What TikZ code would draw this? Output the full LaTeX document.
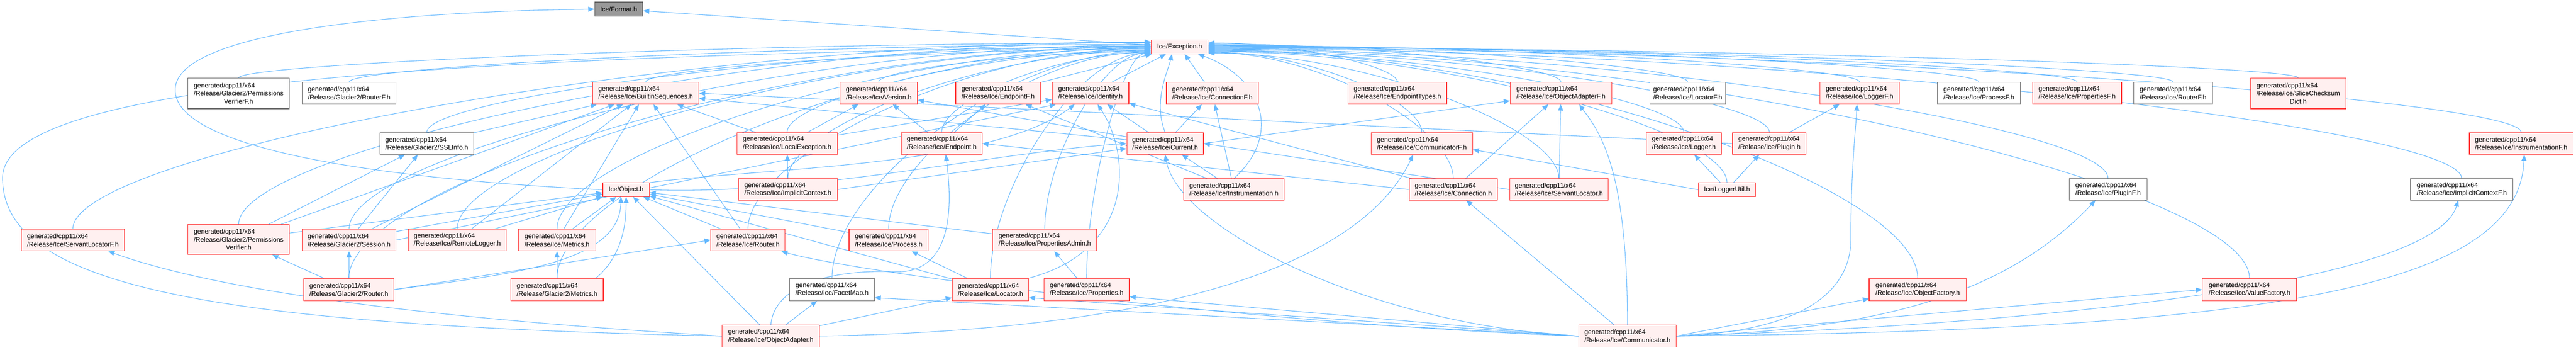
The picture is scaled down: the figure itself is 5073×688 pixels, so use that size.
\documentclass[tikz,border=0pt]{standalone}
\usepackage{fontspec}
\setmainfont{Liberation Sans}
\usetikzlibrary{arrows.meta,calc}
\definecolor{edgec}{HTML}{63B8FF}
\definecolor{redb}{HTML}{FF3333}
\definecolor{redf}{HTML}{FFF0F0}
\definecolor{grayb}{HTML}{666666}
\definecolor{rootf}{HTML}{999999}
\pgfdeclarelayer{bg}
\pgfdeclarelayer{edges}
\pgfsetlayers{bg,edges,main}
\newcommand\twoL[1]{\rlap{generated/cpp11/x64}\phantom{#1}\\#1}
\newcommand\threeL[2]{\rlap{generated/cpp11/x64}\phantom{#1}\\#1\\#2}
\newcommand\mknode[7]{\node[#6,minimum width={(#4-#2)*0.75pt},minimum height={(#5-#3)*0.75pt}] (#1) at ({(#2+#4)/2},{(#3+#5)/2}) {#7};}
\newcommand\exl[3]{\draw[inc] let \p1=(#1.#2), \p2=($(Exc.west)+(0,#3)$) in (\p1) .. controls (\x1,{\y2+0.6*(\y1-\y2)}) and ({\x2-0.45*(\x2-\x1)},\y2) .. (\p2);}
\newcommand\exr[3]{\draw[inc] let \p1=(#1.#2), \p2=($(Exc.east)+(0,#3)$) in (\p1) .. controls (\x1,{\y2+0.6*(\y1-\y2)}) and ({\x2+0.45*(\x1-\x2)},\y2) .. (\p2);}
\begin{document}
\begin{tikzpicture}[x=0.75pt,y=-0.75pt,
 every node/.style={font=\fontsize{9.7}{11.85}\selectfont, inner sep=0pt, align=center, line width=0.9pt},
 rn/.style={draw=redb, fill=redf},
 wn/.style={draw=grayb, fill=white},
 gn/.style={draw=grayb, fill=rootf},
 inc/.style={draw=edgec, line width=0.8pt, -{Triangle[length=9pt,width=7.5pt]}}]
\useasboundingbox (0,0) rectangle (5073,688);
\begin{pgfonlayer}{bg}
\fill[white] (0,0) rectangle (5073,688);
\end{pgfonlayer}
% nodes
\mknode{Fmt}{1171}{4}{1266}{32}{gn}{Ice/Format.h}
\mknode{Exc}{2267}{79}{2379}{106}{rn}{Ice/Exception.h}
\mknode{PVF}{370}{154}{570}{214}{wn}{\threeL{/Release/Glacier2/Permissions}{VerifierF.h}}
\mknode{G2RF}{595}{162}{780}{205}{wn}{\twoL{/Release/Glacier2/RouterF.h}}
\mknode{BS}{1167}{162}{1376}{205}{rn}{\twoL{/Release/Ice/BuiltinSequences.h}}
\mknode{Ver}{1654}{162}{1807}{205}{rn}{\twoL{/Release/Ice/Version.h}}
\mknode{EPF}{1882}{162}{2049}{205}{rn}{\twoL{/Release/Ice/EndpointF.h}}
\mknode{Ident}{2072}{162}{2223}{205}{rn}{\twoL{/Release/Ice/Identity.h}}
\mknode{ConnF}{2297}{162}{2478}{205}{rn}{\twoL{/Release/Ice/ConnectionF.h}}
\mknode{EPT}{2655}{162}{2849}{205}{rn}{\twoL{/Release/Ice/EndpointTypes.h}}
\mknode{OAF}{2974}{162}{3174}{205}{rn}{\twoL{/Release/Ice/ObjectAdapterF.h}}
\mknode{LocF}{3249}{162}{3398}{205}{wn}{\twoL{/Release/Ice/LocatorF.h}}
\mknode{LogF}{3584}{162}{3740}{205}{rn}{\twoL{/Release/Ice/LoggerF.h}}
\mknode{ProcF}{3815}{162}{3979}{205}{wn}{\twoL{/Release/Ice/ProcessF.h}}
\mknode{PropF}{4003}{162}{4178}{205}{rn}{\twoL{/Release/Ice/PropertiesF.h}}
\mknode{RtF}{4202}{162}{4357}{205}{wn}{\twoL{/Release/Ice/RouterF.h}}
\mknode{SCD}{4432}{154}{4620}{214}{rn}{\threeL{/Release/Ice/SliceChecksum}{Dict.h}}
\mknode{SSL}{748}{261}{933}{304}{wn}{\twoL{/Release/Glacier2/SSLInfo.h}}
\mknode{LocEx}{1451}{261}{1649}{304}{rn}{\twoL{/Release/Ice/LocalException.h}}
\mknode{EP}{1775}{261}{1934}{304}{rn}{\twoL{/Release/Ice/Endpoint.h}}
\mknode{Cur}{2219}{261}{2370}{304}{rn}{\twoL{/Release/Ice/Current.h}}
\mknode{CommF}{2700}{261}{2900}{304}{rn}{\twoL{/Release/Ice/CommunicatorF.h}}
\mknode{Log}{3242}{261}{3390}{304}{rn}{\twoL{/Release/Ice/Logger.h}}
\mknode{Plug}{3412}{261}{3557}{304}{rn}{\twoL{/Release/Ice/Plugin.h}}
\mknode{InstF}{4863}{261}{5067}{304}{rn}{\twoL{/Release/Ice/InstrumentationF.h}}
\mknode{Obj}{1187}{360}{1279}{387}{rn}{Ice/Object.h}
\mknode{ImpC}{1454}{352}{1649}{394}{rn}{\twoL{/Release/Ice/ImplicitContext.h}}
\mknode{Inst}{2331}{352}{2529}{394}{rn}{\twoL{/Release/Ice/Instrumentation.h}}
\mknode{Conn}{2775}{352}{2949}{394}{rn}{\twoL{/Release/Ice/Connection.h}}
\mknode{SL}{2973}{352}{3167}{394}{rn}{\twoL{/Release/Ice/ServantLocator.h}}
\mknode{LU}{3345}{360}{3457}{387}{rn}{Ice/LoggerUtil.h}
\mknode{PlugF}{4075}{352}{4228}{394}{wn}{\twoL{/Release/Ice/PluginF.h}}
\mknode{ImpCF}{4747}{352}{4949}{394}{wn}{\twoL{/Release/Ice/ImplicitContextF.h}}
\mknode{SLF}{42}{451}{245}{494}{rn}{\twoL{/Release/Ice/ServantLocatorF.h}}
\mknode{PV}{370}{442}{570}{501}{rn}{\threeL{/Release/Glacier2/Permissions}{Verifier.h}}
\mknode{Sess}{595}{451}{780}{494}{rn}{\twoL{/Release/Glacier2/Session.h}}
\mknode{RL}{804}{451}{997}{494}{rn}{\twoL{/Release/Ice/RemoteLogger.h}}
\mknode{Met}{1021}{451}{1173}{494}{rn}{\twoL{/Release/Ice/Metrics.h}}
\mknode{Rt}{1400}{451}{1546}{494}{rn}{\twoL{/Release/Ice/Router.h}}
\mknode{Proc}{1672}{451}{1828}{494}{rn}{\twoL{/Release/Ice/Process.h}}
\mknode{PA}{1955}{451}{2160}{494}{rn}{\twoL{/Release/Ice/PropertiesAdmin.h}}
\mknode{G2R}{598}{548}{776}{592}{rn}{\twoL{/Release/Glacier2/Router.h}}
\mknode{G2M}{1006}{548}{1188}{592}{rn}{\twoL{/Release/Glacier2/Metrics.h}}
\mknode{FM}{1555}{548}{1722}{592}{wn}{\twoL{/Release/Ice/FacetMap.h}}
\mknode{Loc}{1875}{548}{2026}{592}{rn}{\twoL{/Release/Ice/Locator.h}}
\mknode{Prop}{2056}{548}{2224}{592}{rn}{\twoL{/Release/Ice/Properties.h}}
\mknode{OF}{3681}{548}{3872}{592}{rn}{\twoL{/Release/Ice/ObjectFactory.h}}
\mknode{VF}{4337}{548}{4523}{592}{rn}{\twoL{/Release/Ice/ValueFactory.h}}
\mknode{OA}{1422}{640}{1614}{683}{rn}{\twoL{/Release/Ice/ObjectAdapter.h}}
\mknode{Comm}{3109}{640}{3301}{683}{rn}{\twoL{/Release/Ice/Communicator.h}}
% edges
\begin{pgfonlayer}{edges}
\draw[inc] (Exc) -- (Fmt);
\draw[inc] (Obj.west) .. controls (800,355) and (340,300) .. (345,175) .. controls (350,60) and (800,22) .. (Fmt.west);
% into Exception from the left
\exl{PVF}{north}{-8}
\exl{G2RF}{north}{-5}
\exl{SSL}{north}{-2}
\exl{SLF}{north}{-10}
\exl{PV}{north}{-9}
\exl{Sess}{north}{-4}
\exl{G2R}{north}{-1}
\exl{G2M}{north}{1}
\exl{RL}{north}{0}
\exl{Met}{north}{2}
\exl{Rt}{north}{3}
\exl{BS}{north}{4}
\exl{LocEx}{north}{6}
\exl{ImpC}{north}{7}
\exl{FM}{north}{8}
\exl{Ver}{north}{9}
\exl{Proc}{north}{10}
\exl{EP}{north}{11}
\exl{PA}{north}{12}
\exl{Loc}{north}{12}
\exl{Prop}{north}{13}
\draw[inc] (OA.west) .. controls (400,640) and (5,560) .. (5,350) .. controls (5,160) and (900,110) .. ($(Exc.west)+(0,-2)$);
% into Exception from below
\draw[inc] (EPF) -- (Exc);
\draw[inc] (Ident) -- (Exc);
\draw[inc] (ConnF) -- (Exc);
\draw[inc] (Cur.north) .. controls (2270,200) and (2300,140) .. ($(Exc.south)+(-15,0)$);
\draw[inc] (Inst.north) .. controls (2530,260) and (2480,150) .. ($(Exc.south east)+(-20,0)$);
% into Exception from the right
\exr{EPT}{north}{-8}
\exr{OAF}{north}{-6}
\exr{LocF}{north}{-4}
\exr{LogF}{north}{-3}
\exr{ProcF}{north}{-2}
\exr{PropF}{north}{-1}
\exr{RtF}{north}{0}
\exr{SCD}{north}{1}
\exr{InstF}{north}{2}
\exr{ImpCF}{north}{3}
\exr{PlugF}{north}{4}
\exr{VF}{north}{5}
\exr{OF}{north}{6}
\exr{Plug}{north}{7}
\exr{Log}{north}{8}
\exr{LU}{north}{9}
\exr{CommF}{north}{10}
\exr{Conn}{north}{11}
\exr{SL}{north}{12}
% other includes
\draw[inc] (PV) -- (SSL);
\draw[inc] (Sess) -- (SSL);
\draw[inc] (SSL) -- (BS);
\draw[inc] (G2R) -- (PV);
\draw[inc] (G2R) -- (Sess);
\draw[inc] (G2R.east) -- (Rt.west);
\draw[inc] (OA.west) .. controls (900,630) and (450,580) .. ($(SLF.south)+(70,0)$);
\draw[inc] (Sess) -- (BS);
\draw[inc] (PV) -- (BS);
\draw[inc] (RL) -- (BS);
\draw[inc] (Met) -- (BS);
\draw[inc] (Rt) -- (BS);
\draw[inc] (LocEx) -- (BS);
\draw[inc] (Cur) -- (BS);
\draw[inc] (Plug.west) -- (BS.east);
\draw[inc] (PV) -- (Obj);
\draw[inc] (Sess) -- (Obj);
\draw[inc] (RL) -- (Obj);
\draw[inc] (Met) -- (Obj);
\draw[inc] (Rt) -- (Obj);
\draw[inc] ($(G2M.north east)+(-15,0)$) .. controls (1230,500) and (1233,430) .. (Obj.south);
\draw[inc] (G2R.east) .. controls (1000,540) and (1220,520) .. ($(Obj.south)+(-10,0)$);
\draw[inc] (OA) -- (Obj);
\draw[inc] (Proc) -- (Obj);
\draw[inc] (PA) -- (Obj);
\draw[inc] (Loc) -- (Obj);
\draw[inc] (G2M) -- (Met);
\draw[inc] (ImpC) -- (LocEx);
\draw[inc] (LocEx) -- (Ver);
\draw[inc] (LocEx) -- (Ident);
\draw[inc] (Obj.north east) .. controls (1500,330) and (1950,330) .. ($(Ident.south west)+(45,0)$);
\draw[inc] (Obj.east) .. controls (1600,385) and (1950,300) .. (Cur.west);
\draw[inc] (ImpC.east) -- ($(Cur.west)+(0,10)$);
\draw[inc] (EP) -- (Ver);
\draw[inc] (EP) -- (EPF);
\draw[inc] (Cur) -- (Ident);
\draw[inc] (Cur) -- (ConnF);
\draw[inc] (Cur) -- (Ver);
\draw[inc] (Cur.east) -- ($(OAF.west)+(0,15)$);
\draw[inc] (Inst) -- (Cur);
\draw[inc] (Inst) -- (ConnF);
\draw[inc] (Inst) -- (EPF);
\draw[inc] (Loc.north east) .. controls (2240,490) and (2225,300) .. ($(Ident.south)+(14,0)$);
\draw[inc] (Loc) -- (Proc);
\draw[inc] (Prop) -- (PA);
\draw[inc] (OA) -- (FM);
\draw[inc] (OA) -- (Loc);
\draw[inc] (OA.north) .. controls (1525,560) and (1640,530) .. (1760,535) .. controls (1880,540) and (1875,400) .. ($(EP.south)+(8,0)$);
\draw[inc] (OA.east) .. controls (2300,650) and (2680,520) .. ($(CommF.south)+(-17,0)$);
\draw[inc] (Comm) -- (Conn);
\draw[inc] (Comm.north) .. controls (3205,330) and (3150,260) .. ($(OAF.south)+(36,0)$);
\draw[inc] (SL) -- (OAF);
\draw[inc] (Conn) -- (OAF);
\draw[inc] (Conn.west) -- (EP.east);
\draw[inc] (Conn) -- (Ident);
\draw[inc] (SL.west) -- (Cur.east);
\draw[inc] (Comm.west) .. controls (2700,640) and (2320,450) .. (Cur.south);
\draw[inc] (LU) -- (Log);
\draw[inc] (LU) -- (Plug);
\draw[inc] (LU.west) -- ($(CommF.east)+(0,12)$);
\draw[inc] (Plug) -- (LogF);
\draw[inc] (Comm.east) .. controls (3500,655) and (3645,600) .. (3645,470) .. controls (3645,330) and (3655,250) .. ($(LogF.south)+(-5,0)$);
\draw[inc] (Comm.east) -- ($(OF.west)+(0,18)$);
\draw[inc] (Comm.east) -- (VF.west);
\draw[inc] (Comm.east) .. controls (3700,650) and (3950,580) .. ($(PlugF.south)+(-25,0)$);
\draw[inc] (Comm.east) .. controls (4000,640) and (4790,560) .. ($(ImpCF.south)+(-7,0)$);
\draw[inc] (Comm.east) .. controls (4500,650) and (4960,560) .. ($(InstF.south)+(6,0)$);
\draw[inc] (Comm.west) .. controls (2500,640) and (1700,540) .. ($(Rt.south east)+(-8,0)$);
\draw[inc] (Comm.west) -- ($(Loc.east)+(0,16)$);
\draw[inc] (Comm.west) -- ($(Prop.east)+(0,14)$);
\draw[inc] (Comm.west) -- ($(FM.east)+(0,16)$);
\draw[inc] (Sess.east) -- ($(Ident.south west)+(8,0)$);
\end{pgfonlayer}
\end{tikzpicture}
\end{document}
